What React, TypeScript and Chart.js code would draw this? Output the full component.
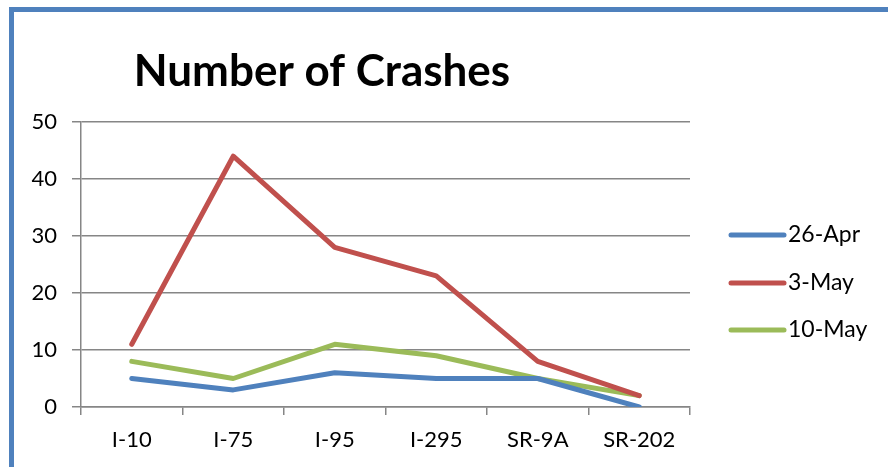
import React, { useEffect, useRef } from "react";
import { Chart, registerables } from "chart.js";

Chart.register(...registerables);

const categories = ["I-10", "I-75", "I-95", "I-295", "SR-9A", "SR-202"];
const seriesNames = ["26-Apr", "3-May", "10-May"];
const apr26 = [5, 3, 6, 5, 5, 0];
const may3 = [11, 44, 28, 23, 8, 2];
const may10 = [8, 5, 11, 9, 5, 2];
const colors = ["#4F81BD", "#C0504D", "#9BBB59"];
const titleText = "Number of Crashes";

const FONT = "Lato, 'Open Sans', sans-serif";

const framePlugin = {
  id: "frame",
  beforeDraw(chart: any) {
    const ctx = chart.ctx;
    ctx.save();
    ctx.fillStyle = "#ffffff";
    ctx.fillRect(0, 0, chart.width, chart.height);
    ctx.strokeStyle = "#4F81BD";
    ctx.lineWidth = 5;
    ctx.beginPath();
    ctx.moveTo(11.5, chart.height + 5);
    ctx.lineTo(11.5, 9.5);
    ctx.lineTo(chart.width + 5, 9.5);
    ctx.stroke();
    ctx.restore();
  },
  afterDraw(chart: any) {
    const ctx = chart.ctx;
    ctx.save();
    ctx.fillStyle = "#000";
    ctx.font = `bold 44px ${FONT}`;
    ctx.textAlign = "center";
    ctx.textBaseline = "middle";
    ctx.fillText(titleText, 322, 72);
    const rows = [235, 283, 330];
    chart.data.datasets.forEach((ds: any, i: number) => {
      const y = rows[i];
      ctx.strokeStyle = ds.borderColor;
      ctx.lineWidth = 5;
      ctx.lineCap = "round";
      ctx.beginPath();
      ctx.moveTo(731, y);
      ctx.lineTo(784, y);
      ctx.stroke();
      ctx.fillStyle = "#000";
      ctx.font = `23px ${FONT}`;
      ctx.textAlign = "left";
      ctx.textBaseline = "middle";
      ctx.fillText(ds.label, 788, y);
    });
    ctx.restore();
  },
};

export default function App() {
  const ref = useRef<HTMLCanvasElement>(null);
  useEffect(() => {
    const chart = new Chart(ref.current as HTMLCanvasElement, {
      type: "line",
      data: {
        labels: categories,
        datasets: [apr26, may3, may10].map((d, i) => ({
          label: seriesNames[i],
          data: d,
          borderColor: colors[i],
          backgroundColor: colors[i],
          borderWidth: 5,
          pointRadius: 0,
          tension: 0,
          borderCapStyle: "round",
          borderJoinStyle: "round",
        })),
      },
      options: {
        animation: false,
        responsive: false,
        devicePixelRatio: 1,
        layout: { padding: { left: 0, top: 122, right: 198, bottom: 0 } },
        plugins: { legend: { display: false }, title: { display: false }, tooltip: { enabled: false } },
        scales: {
          x: {
            offset: true,
            afterFit: (s: any) => { s.height = 60; },
            grid: { display: true, drawOnChartArea: false, drawTicks: true, tickLength: 8, color: "#868686", lineWidth: 1.5, offset: true },
            border: { display: true, color: "#868686", width: 1.5 },
            ticks: { color: "#000", font: { family: FONT, size: 22 }, padding: 12, maxRotation: 0 },
          },
          y: {
            min: 0,
            max: 50,
            afterFit: (s: any) => { s.width = 81; },
            grid: { color: "#868686", lineWidth: 1.5, drawTicks: true, tickLength: 9 },
            border: { display: true, color: "#868686", width: 1.5 },
            ticks: { stepSize: 10, color: "#000", font: { family: FONT, size: 22 }, padding: 15 },
          },
        },
      },
      plugins: [framePlugin],
    } as any);
    return () => chart.destroy();
  }, []);
  return (
    <div style={{ position: "absolute", left: 0, top: 0, width: 888, height: 467 }}>
      <canvas ref={ref} width={888} height={467} style={{ width: 888, height: 467 }} />
    </div>
  );
}
